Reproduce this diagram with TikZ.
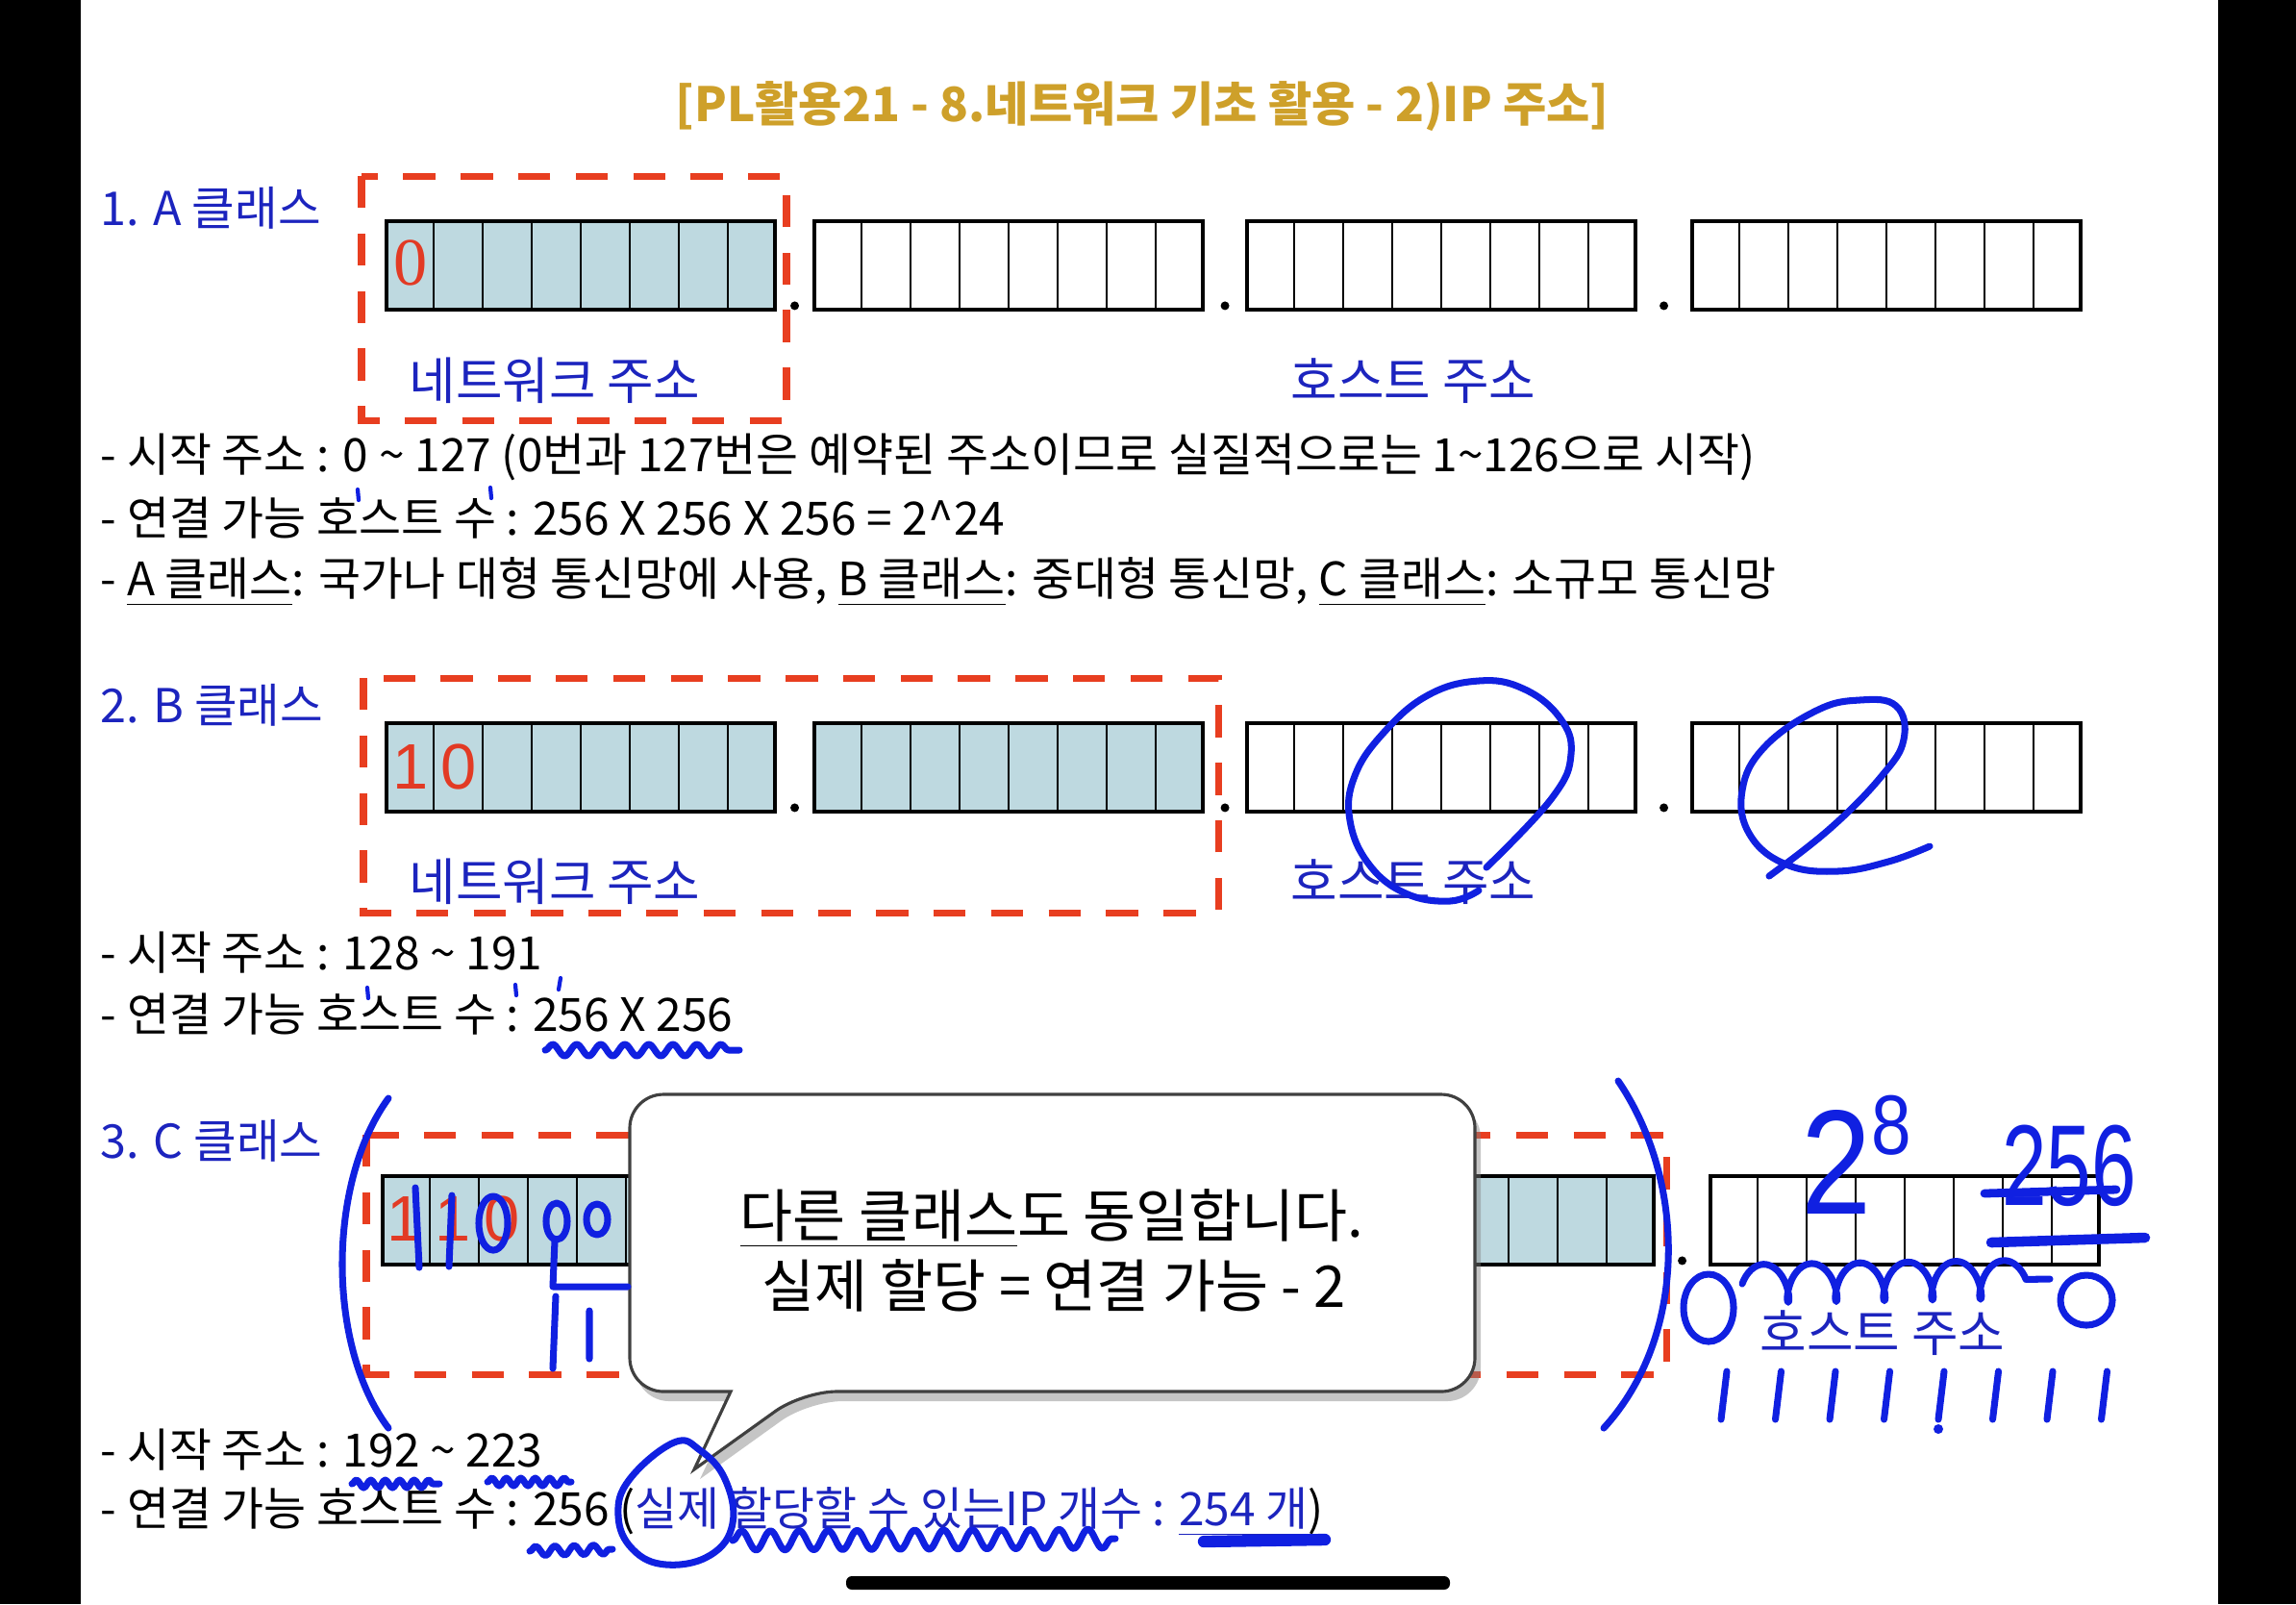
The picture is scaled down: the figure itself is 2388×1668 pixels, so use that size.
\documentclass[tikz,border=0pt]{standalone}
\usepackage{fontspec}
\setmainfont{Noto Sans CJK KR}
\newfontfamily\bitsans{Liberation Sans}
\newfontfamily\bitserif{Liberation Serif}
\usetikzlibrary{calc,positioning,shadows,decorations.pathmorphing}
\definecolor{titlegold}{RGB}{206,160,42}
\definecolor{labelblue}{RGB}{28,36,190}
\definecolor{inkblue}{RGB}{16,32,225}
\definecolor{netfill}{RGB}{190,217,224}
\definecolor{framered}{RGB}{232,62,32}
\definecolor{bitred}{RGB}{226,58,36}
\tikzset{
  bytebox/.style={draw, line width=1.1pt, minimum width=4.04cm, minimum height=0.92cm, inner sep=0pt, anchor=north west},
  netbyte/.style={bytebox, fill=netfill},
  hostbyte/.style={bytebox, fill=white},
  cellline/.style={line width=0.6pt},
  netframe/.style={draw=framered, line width=2pt, dash pattern=on 9.5pt off 7.5pt},
  classlabel/.style={anchor=west, text=labelblue, inner sep=0pt, font=\fontsize{13.8}{16}\selectfont},
  partlabel/.style={text=labelblue, inner sep=0pt, font=\fontsize{15}{17}\selectfont},
  bodyline/.style={anchor=west, inner sep=0pt, font=\fontsize{13.6}{16}\selectfont},
  bitlabel/.style={text=bitred, inner sep=0pt, font=\bitsans\fontsize{19}{19}\selectfont},
  tiptext/.style={inner sep=0pt, font=\fontsize{17}{20}\selectfont},
  calloutbox/.style={fill=white, draw=black!75, line width=0.9pt,
    drop shadow={shadow xshift=0.06cm, shadow yshift=-0.1cm, opacity=0.45}},
  handink/.style={draw=inkblue, line width=2pt, line cap=round, line join=round},
  handtext/.style={text=inkblue, inner sep=0pt},
  addrdot/.style={fill=black}
}
\newcommand{\bytecells}[1]{%
  \foreach \k in {1,...,7}
    \draw[cellline] ($(#1.north west)!\k/8!(#1.north east)$) -- ($(#1.south west)!\k/8!(#1.south east)$);}
\newcommand{\addrdots}[4]{%
  \fill[addrdot] ($(#1.south east)!0.5!(#2.south west)+(0,-6)$) circle (0.045cm);
  \fill[addrdot] ($(#2.south east)!0.5!(#3.south west)+(0,-6)$) circle (0.045cm);
  \fill[addrdot] ($(#3.south east)!0.5!(#4.south west)+(0,-6)$) circle (0.045cm);}

\begin{document}
\begin{tikzpicture}[x=0.01cm, y=-0.01cm]
  \useasboundingbox (0,0) rectangle (2388,1668);
  \fill[white] (0,0) rectangle (2388,1668);
  \fill[black] (0,0) rectangle (84,1668);
  \fill[black] (2307,0) rectangle (2388,1668);

  % title
  \node[text=titlegold, font=\fontsize{14}{16}\selectfont\bfseries] (title) at (1188,111)
    {[PL활용21 - 8.네트워크 기초 활용 - 2)IP 주소]};

  % A class
  \node[classlabel] (labA) at (104,216) {1. A 클래스};
  \node[netbyte] (a1) at (400,228) {};
  \node[hostbyte] (a2) at (845,228) {};
  \node[hostbyte] (a3) at (1295,228) {};
  \node[hostbyte] (a4) at (1758,228) {};
  \foreach \b in {a1,a2,a3,a4} {\bytecells{\b}}
  \addrdots{a1}{a2}{a3}{a4}
  \node[bitlabel, font=\bitserif\fontsize{20}{20}\selectfont] (bitA) at (427,273) {0};
  \draw[netframe] (376,183) rectangle (818,437);
  \node[partlabel] (netA) at (577,396) {네트워크 주소};
  \node[partlabel] (hostA) at (1470,396) {호스트 주소};
  \node[bodyline] (lineA1) at (104,475) {- 시작 주소 : 0 \textasciitilde{} 127 (0번과 127번은 예약된 주소이므로 실질적으로는 1\textasciitilde126으로 시작)};
  \node[bodyline] (lineA2) at (104,539) {- 연결 가능 호스트 수 : 256 X 256 X 256 = 2\textasciicircum24};
  \node[bodyline] (lineA3) at (104,605) {- \underline{A 클래스}: 국가나 대형 통신망에 사용, \underline{B 클래스}: 중대형 통신망, \underline{C 클래스}: 소규모 통신망};

  % B class
  \node[classlabel] (labB) at (104,733) {2. B 클래스};
  \node[netbyte] (b1) at (400,750) {};
  \node[netbyte] (b2) at (845,750) {};
  \node[hostbyte] (b3) at (1295,750) {};
  \node[hostbyte] (b4) at (1758,750) {};
  \foreach \b in {b1,b2,b3,b4} {\bytecells{\b}}
  \addrdots{b1}{b2}{b3}{b4}
  \node[bitlabel] (bitB1) at (427,797) {1};
  \node[bitlabel] (bitB2) at (477,797) {0};
  \draw[netframe] (378,705) rectangle (1267,949);
  \node[partlabel] (netB) at (577,917) {네트워크 주소};
  \node[partlabel] (hostB) at (1470,917) {호스트 주소};
  \node[bodyline] (lineB1) at (104,991) {- 시작 주소 : 128 \textasciitilde{} 191};
  \node[bodyline] (lineB2) at (104,1055) {- 연결 가능 호스트 수 : 256 X 256};

  % C class
  \node[classlabel] (labC) at (104,1186) {3. C 클래스};
  \node[netbyte] (c1) at (396,1221) {};
  \node[netbyte] (c2) at (855,1221) {};
  \node[netbyte] (c3) at (1314,1221) {};
  \node[hostbyte] (c4) at (1777,1221) {};
  \foreach \b in {c1,c2,c3,c4} {\bytecells{\b}}
  \addrdots{c1}{c2}{c3}{c4}
  \node[bitlabel] (bitC1) at (421,1267) {1};
  \node[bitlabel] (bitC2) at (471,1267) {1};
  \node[bitlabel] (bitC3) at (522,1267) {0};
  \draw[netframe] (381,1180) rectangle (1733,1429);
  \node[partlabel] (hostC) at (1958,1386) {호스트 주소};
  \node[bodyline] (lineC1) at (104,1508) {- 시작 주소 : 192 \textasciitilde{} 223};
  \node[bodyline] (lineC2) at (104,1572) {- 연결 가능 호스트 수 : 256 (\textcolor{labelblue}{실제 할당할 수 있는IP 개수 : \underline{254 개}})};

  % callout
  \path[calloutbox, rounded corners=0.35cm] (1094,1138) -- (1534,1138) -- (1534,1447) -- (835,1447)
    [sharp corners] -- (722,1528) -- (760,1447) [rounded corners=0.35cm] -- (655,1447) -- (655,1138) -- cycle;
  \node[tiptext] (tip1) at (1094,1267) {\underline{다른 클래스}도 동일합니다.};
  \node[tiptext] (tip2) at (1096,1337) {실제 할당 = 연결 가능 - 2};

  % handwriting
  \draw[handink, line width=1.2pt] (372,509) -- (373,520) (510,507) -- (511,518);
  \draw[handink, line width=1.2pt] (382,1027) -- (383,1038) (536,1024) -- (537,1035) (583,1017) -- (581,1029);
  \draw[handink] plot[smooth, tension=0.7] coordinates {(1546,902) (1614,830) (1634,784) (1622,746) (1584,716) (1538,708) (1485,723) (1439,762) (1409,807) (1404,853) (1424,899) (1462,929) (1508,937) (1538,926)};
  \draw[handink] plot[smooth, tension=0.7] coordinates {(1840,911) (1904,861) (1957,807) (1980,769) (1972,734) (1934,728) (1889,739) (1835,777) (1812,822) (1820,868) (1858,899) (1911,906) (1964,896) (2007,880)};
  \draw[handink, decorate, decoration={snake, amplitude=0.06cm, segment length=0.25cm}] (567,1092) -- (769,1092);

  \draw[handink] (432,1235) -- (436,1318) (470,1243) -- (467,1317);
  \draw[handink] (513,1272) ellipse [x radius=0.15cm, y radius=0.28cm];
  \draw[handink] (579,1270) ellipse [x radius=0.11cm, y radius=0.19cm];
  \draw[handink] (621,1268) ellipse [x radius=0.11cm, y radius=0.16cm];
  \draw[handink] (577,1290) -- (575,1338) -- (653,1338);
  \draw[handink] (578,1348) -- (575,1423) (613,1363) -- (613,1413);
  \draw[handink] (404,1142) .. controls (340,1230) and (340,1400) .. (404,1485);
  \draw[handink] (1683,1124) .. controls (1755,1230) and (1755,1390) .. (1668,1485);

  \node[handtext, anchor=base west, font=\bitsans\fontsize{44}{44}\selectfont] (powC) at (1873,1262)
    {\scalebox{0.85}[1]{2}\raisebox{0.62cm}{\fontsize{25}{25}\selectfont\scalebox{0.85}[1]{8}}};
  \node[handtext, font=\bitsans\fontsize{34}{34}\selectfont] (sumC) at (2152,1212) {\scalebox{0.7}[1]{256}};
  \draw[handink, line width=2.5pt] (2064,1241) -- (2201,1237);
  \draw[handink, line width=3pt] (2071,1292) -- (2231,1287);
  \draw[handink] (1777,1360) ellipse [x radius=0.26cm, y radius=0.35cm];
  \draw[handink, decorate, decoration={coil, amplitude=0.2cm, segment length=0.5cm}] (1812,1335) -- (2132,1330);
  \draw[handink] (2170,1352) ellipse [x radius=0.27cm, y radius=0.26cm];
  \foreach \i in {0,...,7} \draw[handink] ({1796+56.5*\i},1426) -- ({1790+56.5*\i},1476);
  \fill[inkblue] (2016,1486) circle (0.05cm);

  \draw[handink, decorate, decoration={snake, amplitude=0.04cm, segment length=0.15cm}] (366,1543) -- (457,1543);
  \draw[handink, decorate, decoration={snake, amplitude=0.04cm, segment length=0.15cm}] (507,1541) -- (594,1541);
  \draw[handink, decorate, decoration={snake, amplitude=0.05cm, segment length=0.2cm}] (551,1613) -- (637,1611);
  \draw[handink] plot[smooth cycle, tension=0.7] coordinates {(701,1500) (655,1538) (643,1576) (658,1611) (693,1627) (739,1617) (762,1584) (754,1538) (728,1508)};
  \draw[handink, decorate, decoration={snake, amplitude=0.1cm, segment length=0.3cm}] (762,1602) -- (1160,1600);
  \draw[handink, line width=3.5pt] (1252,1603) -- (1378,1601);

  % home bar
  \fill[black, rounded corners=0.06cm] (880,1639) rectangle (1508,1653);
\end{tikzpicture}
\end{document}
